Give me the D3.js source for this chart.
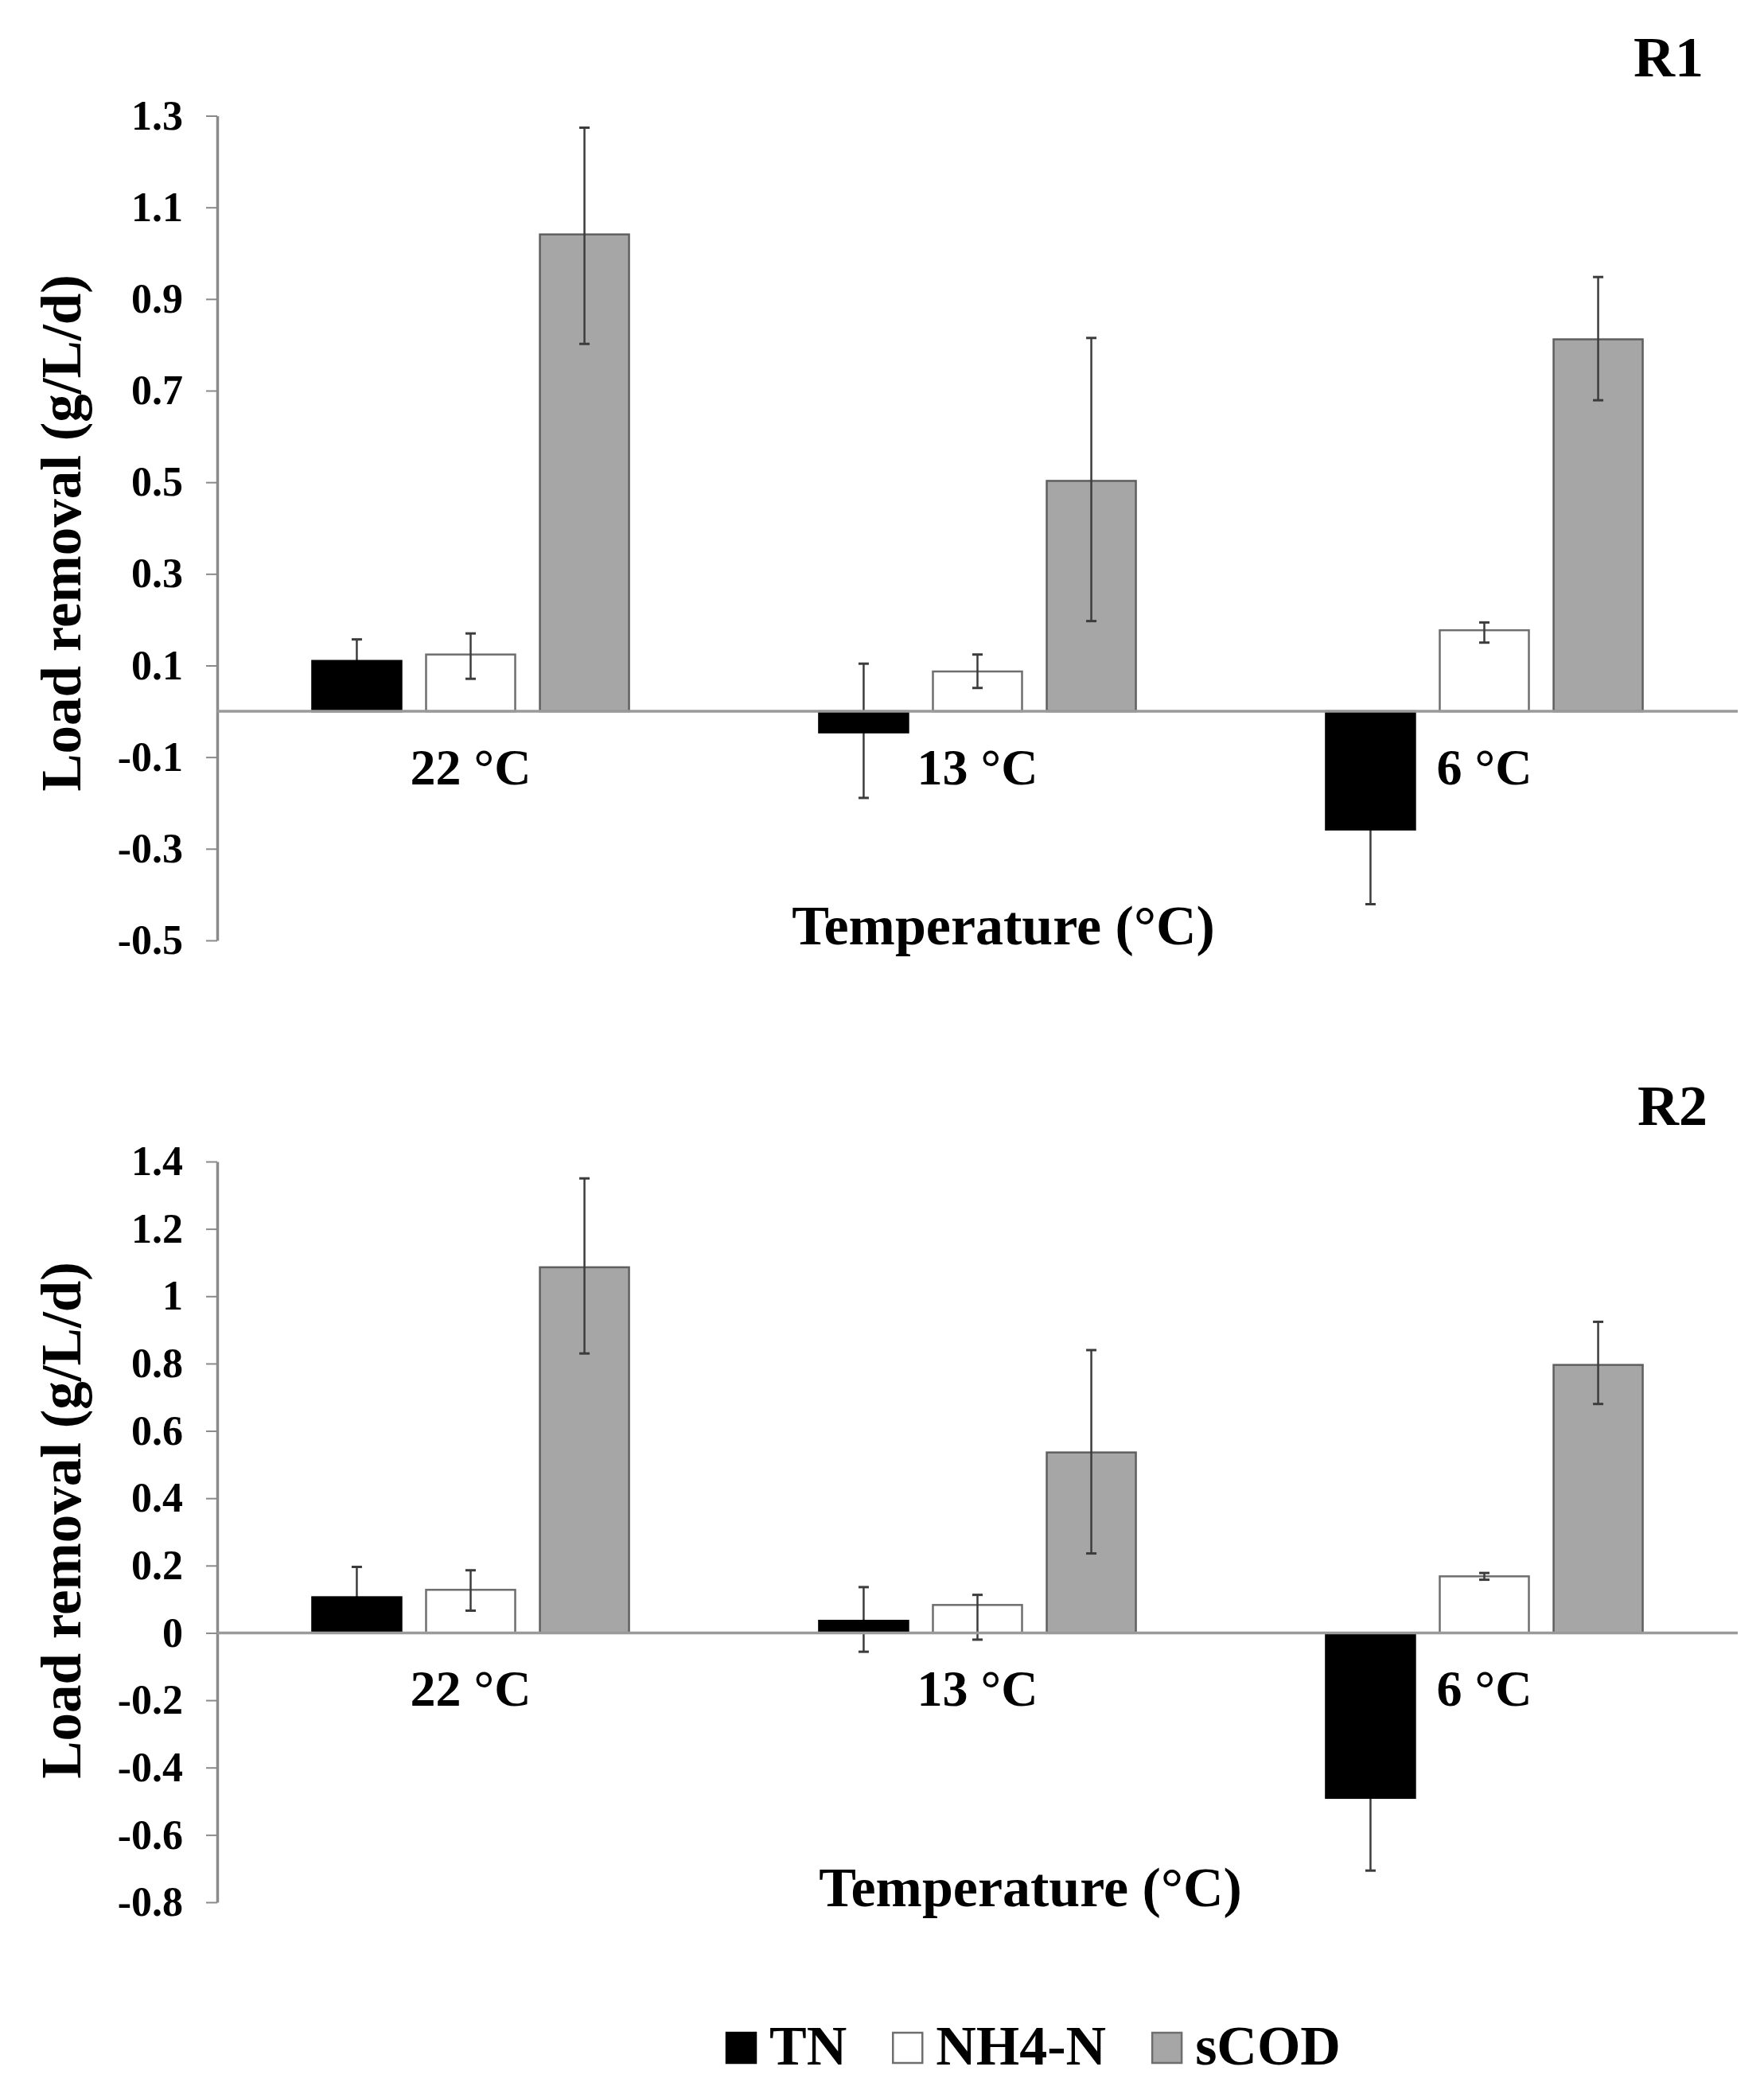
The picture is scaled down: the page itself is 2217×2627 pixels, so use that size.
<!DOCTYPE html>
<html>
<head>
<meta charset="utf-8">
<script src="https://cdn.jsdelivr.net/npm/d3@7/dist/d3.min.js"></script>
<style>
  html, body { margin: 0; padding: 0; background: #fff; }
  svg { display: block; }
  text { font-family: "Liberation Serif", "Times New Roman", serif; font-weight: bold; fill: #000; }
</style>
</head>
<body>
<svg id="chart" width="2217" height="2627"></svg>
<script>
// ---------- data ----------
const categories = ["22 °C", "13 °C", "6 °C"];
const seriesNames = ["TN", "NH4-N", "sCOD"];

// R1
const r1TN      = [0.110, -0.046, -0.258];
const r1TNHi    = [0.157,  0.104, -0.095];
const r1TNLo    = [0.063, -0.189, -0.421];
const r1NH4     = [0.124,  0.087,  0.177];
const r1NH4Hi   = [0.170,  0.124,  0.194];
const r1NH4Lo   = [0.071,  0.051,  0.150];
const r1sCOD    = [1.041,  0.503,  0.812];
const r1sCODHi  = [1.274,  0.815,  0.948];
const r1sCODLo  = [0.802,  0.197,  0.679];
const r1Ticks      = [1.3, 1.1, 0.9, 0.7, 0.5, 0.3, 0.1, -0.1, -0.3, -0.5];
const r1TickLabels = ["1.3", "1.1", "0.9", "0.7", "0.5", "0.3", "0.1", "-0.1", "-0.3", "-0.5"];

// R2
const r2TN      = [0.106,  0.036, -0.490];
const r2TNHi    = [0.196,  0.136, -0.274];
const r2TNLo    = [0.016, -0.056, -0.706];
const r2NH4     = [0.128,  0.083,  0.168];
const r2NH4Hi   = [0.186,  0.113,  0.178];
const r2NH4Lo   = [0.066, -0.020,  0.158];
const r2sCOD    = [1.086,  0.536,  0.796];
const r2sCODHi  = [1.350,  0.840,  0.924];
const r2sCODLo  = [0.830,  0.236,  0.680];
const r2Ticks      = [1.4, 1.2, 1, 0.8, 0.6, 0.4, 0.2, 0, -0.2, -0.4, -0.6, -0.8];
const r2TickLabels = ["1.4", "1.2", "1", "0.8", "0.6", "0.4", "0.2", "0", "-0.2", "-0.4", "-0.6", "-0.8"];

const yTitle = "Load removal (g/L/d)";
const xTitle = "Temperature (°C)";

// ---------- styling ----------
const fills   = { "TN": "#000000", "NH4-N": "#ffffff", "sCOD": "#a6a6a6" };
const strokes = { "TN": "#000000", "NH4-N": "#6e6e6e", "sCOD": "#5f5f5f" };

const svg = d3.select("#chart");

function buildRows(vals) {
  return categories.map((c, i) => ({
    cat: c,
    items: seriesNames.map((s, k) => ({ s, v: vals[k][0][i], hi: vals[k][1][i], lo: vals[k][2][i] }))
  }));
}

function drawErrors(sel, x1, y) {
  const eb = sel.append("g").attr("transform", d => `translate(${x1(d.s) + x1.bandwidth() / 2},0)`);
  eb.append("line").attr("y1", d => y(d.hi)).attr("y2", d => y(d.lo))
    .attr("stroke", "#3c3c3c").attr("stroke-width", 2.5);
  eb.append("line").attr("x1", -6.5).attr("x2", 6.5).attr("y1", d => y(d.hi)).attr("y2", d => y(d.hi))
    .attr("stroke", "#3c3c3c").attr("stroke-width", 3);
  eb.append("line").attr("x1", -6.5).attr("x2", 6.5).attr("y1", d => y(d.lo)).attr("y2", d => y(d.lo))
    .attr("stroke", "#3c3c3c").attr("stroke-width", 3);
}

function drawPanel(cfg) {
  const g = svg.append("g");
  const x0 = d3.scaleBand().domain(categories).range([cfg.left, cfg.right])
    .paddingInner(0.375).paddingOuter(0.1875);
  const x1 = d3.scaleBand().domain(seriesNames).range([0, x0.bandwidth()])
    .paddingInner(0.217).paddingOuter(0);
  const y = d3.scaleLinear().domain(cfg.domain).range([cfg.bottom, cfg.top]);

  // y axis
  const axis = d3.axisLeft(y).tickValues(cfg.ticks)
    .tickFormat((d, i) => cfg.tickLabels[i])
    .tickSize(14).tickSizeOuter(0).tickPadding(29);
  const ag = g.append("g").attr("transform", `translate(${cfg.left},0)`).call(axis);
  ag.select(".domain").attr("stroke", "#8a8a8a").attr("stroke-width", 3.5);
  ag.selectAll(".tick line").attr("stroke", "#8a8a8a").attr("stroke-width", 2);
  ag.selectAll(".tick text").style("font-size", "52px")
    .style("font-family", '"Liberation Serif", "Times New Roman", serif')
    .style("font-weight", "bold").attr("fill", "#000");

  const rows = buildRows(cfg.vals);

  const grp = g.selectAll("g.grp").data(rows).join("g")
    .attr("class", "grp").attr("transform", d => `translate(${x0(d.cat)},0)`);

  // TN error bars sit behind the black bars
  grp.selectAll("g.errBack").data(d => d.items.filter(it => it.s === "TN")).join("g")
    .attr("class", "errBack").call(sel => drawErrors(sel, x1, y));

  // bars
  grp.selectAll("rect").data(d => d.items).join("rect")
    .attr("x", d => x1(d.s))
    .attr("width", x1.bandwidth())
    .attr("y", d => y(Math.max(0, d.v)))
    .attr("height", d => Math.abs(y(d.v) - y(0)))
    .attr("fill", d => fills[d.s])
    .attr("stroke", d => strokes[d.s])
    .attr("stroke-width", 2.5);

  // zero line
  g.append("line").attr("x1", cfg.left).attr("x2", cfg.right)
    .attr("y1", y(0)).attr("y2", y(0))
    .attr("stroke", "#9a9a9a").attr("stroke-width", 3.5);

  // other error bars on top
  grp.selectAll("g.errFront").data(d => d.items.filter(it => it.s !== "TN")).join("g")
    .attr("class", "errFront").call(sel => drawErrors(sel, x1, y));

  // category labels
  g.selectAll("text.cat").data(categories).join("text").attr("class", "cat")
    .attr("x", d => x0(d) + x0.bandwidth() / 2)
    .attr("y", y(0) + 92)
    .attr("text-anchor", "middle").style("font-size", "64px").text(d => d);

  // panel title
  g.append("text").attr("x", cfg.titleX).attr("y", cfg.titleY)
    .attr("text-anchor", "end").style("font-size", "72px").text(cfg.title);

  // y title
  g.append("text").attr("transform", `translate(${cfg.yTitleX},${cfg.yTitleY}) rotate(-90)`)
    .attr("text-anchor", "middle").style("font-size", "71px").text(yTitle);

  // x title
  g.append("text").attr("x", cfg.xTitleX).attr("y", y(cfg.domain[0]) + 5)
    .attr("text-anchor", "middle").style("font-size", "70px").text(xTitle);
}

drawPanel({
  left: 273, right: 2184, top: 145.5, bottom: 1182, domain: [-0.5, 1.3],
  ticks: r1Ticks, tickLabels: r1TickLabels,
  vals: [[r1TN, r1TNHi, r1TNLo], [r1NH4, r1NH4Hi, r1NH4Lo], [r1sCOD, r1sCODHi, r1sCODLo]],
  title: "R1", titleX: 2141, titleY: 96,
  yTitleX: 101, yTitleY: 670, xTitleX: 1261
});

drawPanel({
  left: 273, right: 2184, top: 1460, bottom: 2391, domain: [-0.8, 1.4],
  ticks: r2Ticks, tickLabels: r2TickLabels,
  vals: [[r2TN, r2TNHi, r2TNLo], [r2NH4, r2NH4Hi, r2NH4Lo], [r2sCOD, r2sCODHi, r2sCODLo]],
  title: "R2", titleX: 2146, titleY: 1414,
  yTitleX: 101, yTitleY: 1911, xTitleX: 1295
});

// legend
const leg = svg.append("g");
let lx = 913;
seriesNames.forEach(s => {
  leg.append("rect").attr("x", lx).attr("y", 2555).attr("width", 37).attr("height", 38)
    .attr("fill", fills[s]).attr("stroke", s === "TN" ? "#000" : "#6e6e6e").attr("stroke-width", 2.5);
  const t = leg.append("text").attr("x", lx + 54).attr("y", 2595)
    .style("font-size", "70px").text(s);
  lx = lx + 54 + t.node().getComputedTextLength() + 58;
});
</script>
</body>
</html>
